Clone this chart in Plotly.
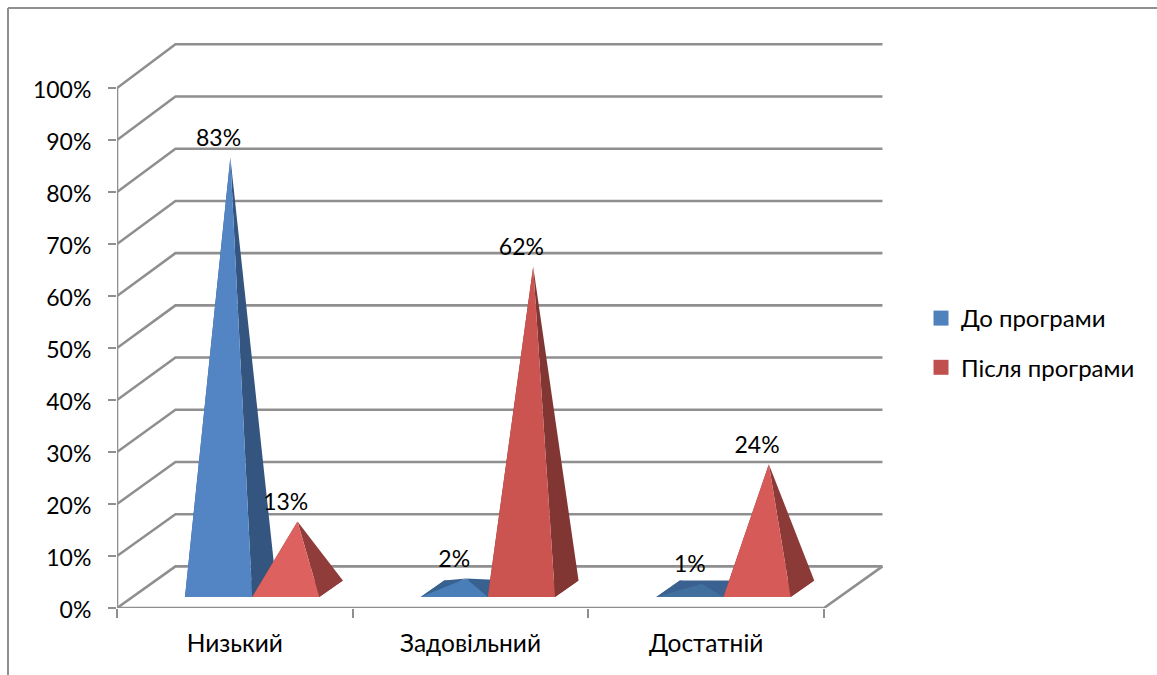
import plotly.graph_objects as go

# Survey results by level, before and after the programme (percent)
categories = ["Низький", "Задовільний", "Достатній"]
before_values = [83, 2, 1]
after_values = [13, 62, 24]
series_names = ["До програми", "Після програми"]
y_ticks = [0, 10, 20, 30, 40, 50, 60, 70, 80, 90, 100]

# Shades for each pyramid: front face, side face
before_front = ["#5385c5", "#4a7eb8", "#41709f"]
before_side = ["#34557f", "#38618f", "#3a618f"]
after_front = ["#dd625f", "#cb5450", "#d65b58"]
after_side = ["#8f3c3a", "#823634", "#8b3a38"]
GRID = "#8f8f8f"

# Pseudo-3D projection expressed in axis units
DEPTH_X = 0.248   # category units of full chart depth
DEPTH_Y = 8.0     # percent units of full chart depth
BACK_SCALE = 1.004  # back wall spacing relative to the front axis
BASE_Y = 2.1      # front edge of a pyramid's base above the floor
BASE_DX = 0.1     # pyramid depth, x component
BASE_DY = 3.2     # pyramid depth, y component
APEX_Y = 3.65     # base centre above the floor
LABEL_Y = 7.0     # label centre above the value
SLOT = 0.285      # pyramid front width
START = 0.2885    # gap from the category start to the first pyramid

W, H = 1157, 675
L, R, T, B = 117, 895, 35, 608
X_MAX = 3 * (R - L) / 707
Y_MAX = 100 * (B - T) / 520

fig = go.Figure()


def line(xs, ys):
    fig.add_trace(go.Scatter(
        x=xs, y=ys, mode="lines", line=dict(color=GRID, width=2.6),
        showlegend=False, hoverinfo="skip", cliponaxis=False,
    ))


# Back wall and left wall gridlines
for v in y_ticks:
    back = v * BACK_SCALE + DEPTH_Y
    line([0, DEPTH_X, 3 + DEPTH_X], [v, back, back])

# Vertical axis and floor outline
line([0, 0], [0, 100])
line([0, 3, 3 + DEPTH_X], [0, 0, DEPTH_Y])


def face(xs, ys, color):
    fig.add_trace(go.Scatter(
        x=xs, y=ys, mode="lines", fill="toself", fillcolor=color,
        line=dict(width=0, color=color), showlegend=False,
        hoverinfo="skip", cliponaxis=False,
    ))


def pyramid(i, slot, value, front, side):
    x0 = i + START + slot * SLOT
    x1 = x0 + SLOT
    apex_x = (x0 + x1) / 2 + BASE_DX / 2
    apex_y = value + APEX_Y
    back_y = BASE_Y + BASE_DY
    # Base, then the side faces, then the front face on top
    face([x0, x0 + BASE_DX, x1 + BASE_DX, x1],
         [BASE_Y, back_y, back_y, BASE_Y], side)
    face([x0, x0 + BASE_DX, apex_x], [BASE_Y, back_y, apex_y], side)
    face([x1, x1 + BASE_DX, apex_x], [BASE_Y, back_y, apex_y], side)
    face([x0, x1, apex_x], [BASE_Y, BASE_Y, apex_y], front)


for i, v in enumerate(before_values):
    pyramid(i, 0, v, before_front[i], before_side[i])
for i, v in enumerate(after_values):
    pyramid(i, 1, v, after_front[i], after_side[i])

# Value labels
for slot, values in enumerate([before_values, after_values]):
    fig.add_trace(go.Scatter(
        x=[i + START + (slot + 0.5) * SLOT for i in range(len(values))],
        y=[v + LABEL_Y for v in values],
        mode="text", text=[f"{v}%" for v in values],
        textposition="middle center",
        textfont=dict(family="Lato", size=23, color="#000000"),
        showlegend=False, hoverinfo="skip", cliponaxis=False,
    ))

# Legend entries
for idx, (name, color) in enumerate(zip(series_names, ["#4f81bd", "#c0504d"])):
    fig.add_trace(go.Scatter(
        x=[None], y=[None], mode="markers", name=name, legendgroup=name,
        marker=dict(symbol="square", size=15, color=color),
    ))

fig.update_layout(
    width=W, height=H,
    margin=dict(l=L, r=W - R, t=T, b=H - B, autoexpand=False),
    paper_bgcolor="white", plot_bgcolor="white",
    font=dict(family="Lato", size=24, color="#000000"),
    legend=dict(
        x=(921 - L) / (R - L), xanchor="left",
        y=1 - (296 - T) / (B - T), yanchor="top",
        traceorder="grouped", tracegroupgap=15,
        font=dict(family="Lato", size=24, color="#000000"),
        bgcolor="rgba(0,0,0,0)",
    ),
    xaxis=dict(
        range=[0, X_MAX], tickmode="array",
        tickvals=[i + 0.5 for i in range(len(categories))],
        ticktext=categories, ticks="", showgrid=False, zeroline=False,
        showline=False, ticklabelstandoff=18,
        tickfont=dict(family="Lato", size=24.5),
        minor=dict(tickmode="array", tickvals=[0, 1, 2, 3], ticks="outside",
                   ticklen=9, tickwidth=2, tickcolor=GRID, showgrid=False),
    ),
    yaxis=dict(
        range=[0, Y_MAX], tickmode="array", tickvals=y_ticks,
        ticktext=[f"{v}%" for v in y_ticks],
        ticks="outside", ticklen=8, tickwidth=2,
        tickcolor=GRID, showgrid=False, zeroline=False, showline=False,
        ticklabelstandoff=12, ticklabelshift=2,
        tickfont=dict(family="Lato", size=23),
    ),
    shapes=[
        # Chart frame, left and top edges
        dict(type="line", xref="paper", yref="paper",
             x0=(8 - L) / (R - L), x1=(8 - L) / (R - L),
             y0=1 - (8 - T) / (B - T), y1=1 - (H - T) / (B - T),
             line=dict(color=GRID, width=2)),
        dict(type="line", xref="paper", yref="paper",
             x0=(8 - L) / (R - L), x1=(W - L) / (R - L),
             y0=1 - (8 - T) / (B - T), y1=1 - (8 - T) / (B - T),
             line=dict(color=GRID, width=2)),
    ],
)

fig.write_html("out.html", config=dict(displayModeBar=False))
